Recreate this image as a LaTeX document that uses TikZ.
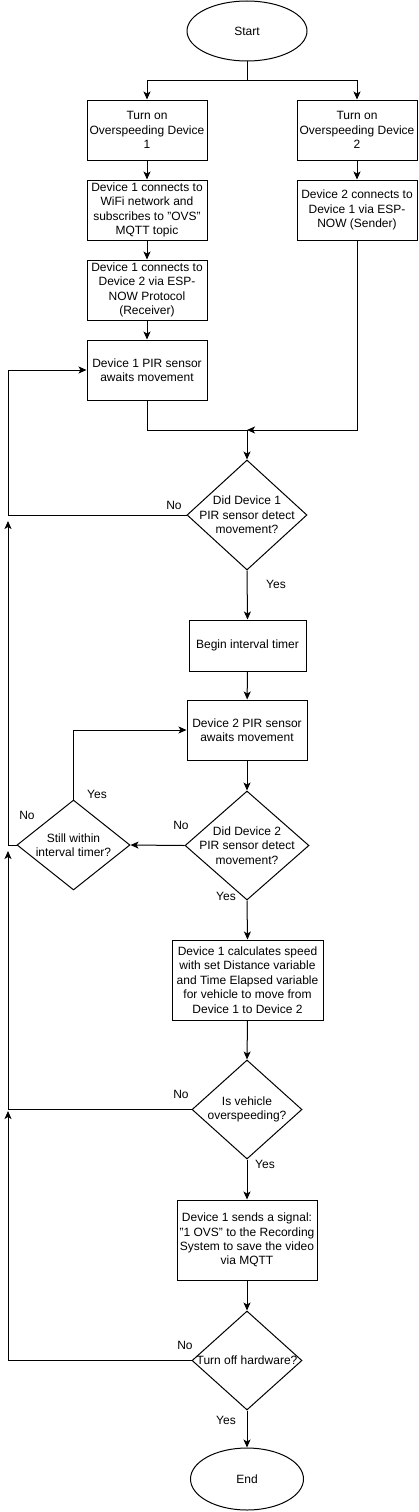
\documentclass[tikz,border=0pt]{standalone}
\usepackage{fontspec}
\setmainfont{Liberation Sans}
\usetikzlibrary{shapes.geometric, arrows.meta}

\begin{document}
\begin{tikzpicture}[x=1pt, y=-1pt,
    every node/.style={font=\fontsize{12}{14.4}\selectfont},
    process/.style={draw, rectangle, line width=1pt, align=center, inner sep=0pt, minimum width=120pt, minimum height=60pt},
    decision/.style={draw, diamond, line width=1pt, inner sep=0pt},
    terminal/.style={draw, ellipse, line width=1pt, inner sep=0pt},
    flow/.style={line width=1pt, -{Stealth[length=8pt, width=7pt, inset=2pt]}},
    link/.style={line width=1pt},
    answer/.style={inner sep=0pt}]

    % Fix the page to the size of the chart
    \useasboundingbox (0,0) rectangle (418,1512);

    % x position of the return rail on the left
    \def\railX{8}

    % Start and the two devices
    \node[terminal, minimum width=120pt, minimum height=60pt] (start) at (247,31) {Start};
    \node[process] (on1) at (147,130) {Turn on\\Overspeeding Device\\1};
    \node[process] (on2) at (357,130) {Turn on\\Overspeeding Device\\2};
    \node[process] (wifi) at (147,210) {Device 1 connects to\\WiFi network and\\subscribes to "OVS"\\MQTT topic};
    \node[process] (recv) at (147,290) {Device 1 connects to\\Device 2 via ESP-\\NOW Protocol\\(Receiver)};
    \node[process] (send1) at (357,210) {Device 2 connects to\\Device 1 via ESP-\\NOW (Sender)};
    \node[process] (pir1) at (147,370) {Device 1 PIR sensor\\awaits movement};

    % First sensor check and timer
    \node[decision, minimum width=120pt, minimum height=110pt,
        label={[align=center]center:{Did Device 1\\PIR sensor detect\\movement?}}] (det1) at (247,515) {};
    \node[process, minimum width=117pt, minimum height=51pt] (timer) at (247.5,645.5) {Begin interval timer};
    \node[process] (pir2) at (247,730) {Device 2 PIR sensor\\awaits movement};
    \node[decision, minimum width=124pt, minimum height=109pt,
        label={[align=center]center:{Did Device 2\\PIR sensor detect\\movement?}}] (det2) at (247,845.5) {};
    \node[decision, minimum width=113pt, minimum height=90pt,
        label={[align=center]center:{Still within\\interval timer?}}] (within) at (73.5,845) {};

    % Speed calculation and signal
    \node[process, minimum width=151pt, minimum height=80pt] (calc) at (247.5,980) {Device 1 calculates speed\\with set Distance variable\\and Time Elapsed variable\\for vehicle to move from\\Device 1 to Device 2};
    \node[decision, minimum width=110pt, minimum height=99pt,
        label={[align=center]center:{Is vehicle\\overspeeding?}}] (speed) at (247,1109.5) {};
    \node[process, minimum width=140pt, minimum height=80pt] (signal) at (247,1240) {Device 1 sends a signal:\\"1 OVS" to the Recording\\System to save the video\\via MQTT};
    \node[decision, minimum width=110pt, minimum height=99pt,
        label={[align=center]center:{Turn off hardware?}}] (off) at (247,1360.5) {};
    \node[terminal, minimum width=113pt, minimum height=62pt] (end) at (247,1479) {End};

    % Helper points
    \coordinate (split) at (247,80);
    \coordinate (merge) at (247,430);
    \coordinate (rail1) at (\railX,515);
    \coordinate (rail2) at (\railX,845);
    \coordinate (top2) at (\railX,521);
    \coordinate (rail3) at (\railX,1109.5);
    \coordinate (top3) at (\railX,851);
    \coordinate (rail4) at (\railX,1360.5);
    \coordinate (top4) at (\railX,1111);

    % Draw the connectors
    \draw[link] (start) -- (split);
    \draw[flow] (split) -| (on1);
    \draw[flow] (split) -| (on2);
    \draw[flow] (on1) -- (wifi);
    \draw[flow] (wifi) -- (recv);
    \draw[flow] (recv) -- (pir1);
    \draw[flow] (on2) -- (send1);
    \draw[link] (pir1.south) |- (merge);
    \draw[flow] (send1.south) |- (merge);
    \draw[flow] (merge) -- (det1.north);
    \draw[flow] (det1.west) -- (rail1) |- (pir1.west);
    \draw[flow] (det1.south) -- (timer.north);
    \draw[flow] (timer) -- (pir2);
    \draw[flow] (pir2.south) -- (det2.north);
    \draw[flow] (det2.west) -- (within.east);
    \draw[flow] (within.north) |- (pir2.west);
    \draw[flow] (within.west) -- (rail2) -- (top2);
    \draw[flow] (det2.south) -- (calc.north);
    \draw[flow] (calc.south) -- (speed.north);
    \draw[flow] (speed.west) -- (rail3) -- (top3);
    \draw[flow] (speed.south) -- (signal.north);
    \draw[flow] (signal.south) -- (off.north);
    \draw[flow] (off.west) -- (rail4) -- (top4);
    \draw[flow] (off.south) -- (end.north);

    % Yes / No labels
    \node[answer] (no1) at (174,505) {No};
    \node[answer] (yes1) at (276,584) {Yes};
    \node[answer] (no2) at (181,825) {No};
    \node[answer] (yes2) at (97,794) {Yes};
    \node[answer] (no3) at (27,815) {No};
    \node[answer] (yes3) at (226,896) {Yes};
    \node[answer] (no4) at (181,1094) {No};
    \node[answer] (yes4) at (265,1164) {Yes};
    \node[answer] (no5) at (185,1345) {No};
    \node[answer] (yes5) at (226,1420) {Yes};

\end{tikzpicture}
\end{document}
